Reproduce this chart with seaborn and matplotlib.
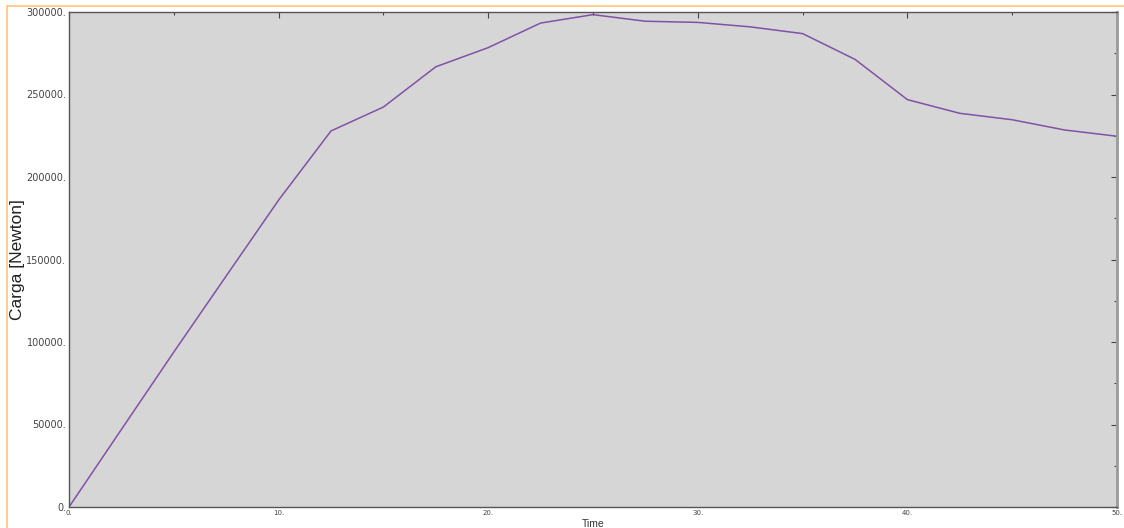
import numpy as np
import pandas as pd
import matplotlib
matplotlib.use("Agg")
import matplotlib.pyplot as plt
import seaborn as sns
from matplotlib.ticker import MultipleLocator, FuncFormatter
from matplotlib.lines import Line2D

# data
time = [0, 2.5, 5, 7.5, 10, 12.5, 15, 17.5, 20, 22.5, 25, 27.5, 30,
        32.5, 35, 37.5, 40, 42.5, 45, 47.5, 50]
carga = [0, 47000, 93900, 140000, 186000, 227900, 242400, 266800, 278400,
         293300, 298400, 294400, 293700, 291000, 286900, 271300, 246900,
         238600, 234700, 228500, 224700]

df = pd.DataFrame({"Time": time, "Carga": carga})

sns.set_style("white")
plt.rcParams["font.family"] = ["DejaVu Sans"]

fig = plt.figure(figsize=(11.24, 5.28), dpi=100)
ax = fig.add_axes([69 / 1124, 1 - 507 / 528, (1117 - 69) / 1124, (507 - 12) / 528])
ax.set_facecolor("#d6d6d6")

sns.lineplot(data=df, x="Time", y="Carga", ax=ax, color="#8052a6", linewidth=1.1)

ax.set_xlim(0, 50)
ax.set_ylim(0, 300000)
ax.xaxis.set_major_locator(MultipleLocator(10))
ax.xaxis.set_minor_locator(MultipleLocator(5))
ax.yaxis.set_major_locator(MultipleLocator(50000))
ax.yaxis.set_minor_locator(MultipleLocator(25000))
ax.xaxis.set_major_formatter(FuncFormatter(lambda v, p: f"{v:.0f}."))
ax.yaxis.set_major_formatter(FuncFormatter(lambda v, p: f"{v:.0f}."))

ax.tick_params(axis="both", which="both", direction="in", top=True, right=True,
               colors="#444444")
ax.tick_params(axis="both", which="major", length=4, width=0.8)
ax.tick_params(axis="both", which="minor", length=2, width=0.8)
ax.tick_params(axis="x", labelsize=5, pad=2)
ax.tick_params(axis="y", labelsize=7, pad=2, labelcolor="#444444")

for s in ["left", "bottom", "top"]:
    ax.spines[s].set_color("#555555")
    ax.spines[s].set_linewidth(1.0)
ax.spines["right"].set_color("#9a9a9a")
ax.spines["right"].set_linewidth(2.0)

ax.set_xlabel("Time", fontsize=7.5, color="#333333", labelpad=2,
              family=["Liberation Sans", "DejaVu Sans"])
ax.set_ylabel("Carga [Newton]", fontsize=12.5, color="#222222",
              family=["Liberation Sans", "DejaVu Sans"])
ax.yaxis.set_label_coords(-0.042, 0.5)

# orange frame lines of the original screenshot
fig.add_artist(Line2D([7 / 1124, 1], [1 - 6 / 528, 1 - 6 / 528],
                      transform=fig.transFigure, color="#ffc47a", linewidth=1.2))
fig.add_artist(Line2D([7 / 1124, 7 / 1124], [0, 1 - 6 / 528],
                      transform=fig.transFigure, color="#ffc47a", linewidth=1.2))

fig.savefig("out.png", dpi=100)
